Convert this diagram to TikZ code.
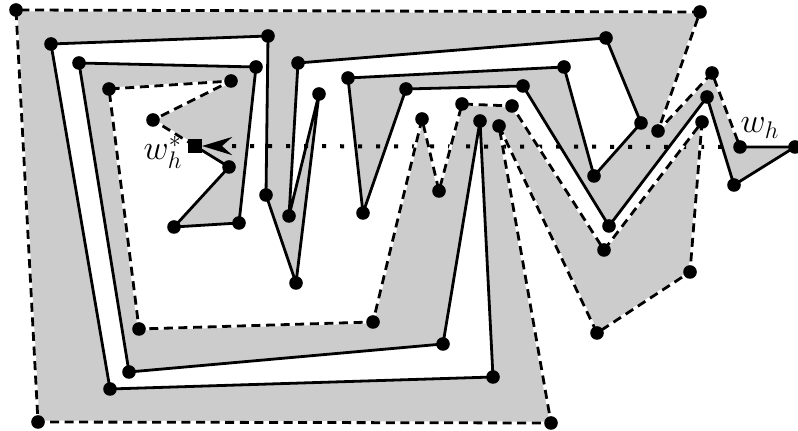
\documentclass[tikz,border=0pt]{standalone}
\usetikzlibrary{arrows.meta}
\begin{document}
\begin{tikzpicture}[x=0.5pt,y=-0.5pt,
  solidedge/.style={line width=1.4pt, line join=round},
  dashunder/.style={white, line width=1.4pt, line join=round},
  dashedge/.style={line width=1.4pt, dash pattern=on 4.5pt off 2.8pt, line join=round},
  dotline/.style={line width=2pt, dash pattern=on 2pt off 7pt},
  vtx/.style={circle, fill=black, inner sep=0pt, minimum size=6.8pt},
  sq/.style={rectangle, fill=black, inner sep=0pt, minimum size=6.8pt},
  lbl/.style={inner sep=0pt, font=\fontsize{18}{21}\selectfont}]
\useasboundingbox (0,0) rectangle (798,431);
% solid chain
\coordinate (s0) at (195,146);
\coordinate (s1) at (229,167);
\coordinate (s2) at (174,227);
\coordinate (s3) at (239,223);
\coordinate (s4) at (256,67);
\coordinate (s5) at (79,63);
\coordinate (s6) at (129,372);
\coordinate (s7) at (443,344);
\coordinate (s8) at (480,121);
\coordinate (s9) at (493,377);
\coordinate (s10) at (110,389);
\coordinate (s11) at (51,44);
\coordinate (s12) at (268,36);
\coordinate (s13) at (266,195);
\coordinate (s14) at (296,283);
\coordinate (s15) at (319,94);
\coordinate (s16) at (289,216);
\coordinate (s17) at (298,63);
\coordinate (s18) at (606,38);
\coordinate (s19) at (641,123);
\coordinate (s20) at (594,176);
\coordinate (s21) at (564,67);
\coordinate (s22) at (348,78);
\coordinate (s23) at (363,213);
\coordinate (s24) at (406,89);
\coordinate (s25) at (523,86);
\coordinate (s26) at (609,226);
\coordinate (s27) at (707,97);
\coordinate (s28) at (734,185);
\coordinate (s29) at (795,147);
\coordinate (s30) at (740,147);
% dashed chain
\coordinate (d1) at (153,120);
\coordinate (d2) at (231,81);
\coordinate (d3) at (109,89);
\coordinate (d4) at (139,329);
\coordinate (d5) at (373,322);
\coordinate (d6) at (422,119);
\coordinate (d7) at (439,191);
\coordinate (d8) at (462,104);
\coordinate (d9) at (512,106);
\coordinate (d10) at (604,250);
\coordinate (d11) at (702,122);
\coordinate (d12) at (690,272);
\coordinate (d13) at (597,333);
\coordinate (d14) at (499,126);
\coordinate (d15) at (551,423);
\coordinate (d16) at (38,422);
\coordinate (d17) at (16,10);
\coordinate (d18) at (700,12);
\coordinate (d19) at (658,131);
\coordinate (d20) at (712,73);
\coordinate (tip) at (202,146);
% gray interior
\fill[black!20] (s0) -- (s1) -- (s2) -- (s3) -- (s4) -- (s5) -- (s6) -- (s7) -- (s8) -- (s9) -- (s10)
  -- (s11) -- (s12) -- (s13) -- (s14) -- (s15) -- (s16) -- (s17) -- (s18) -- (s19) -- (s20)
  -- (s21) -- (s22) -- (s23) -- (s24) -- (s25) -- (s26) -- (s27) -- (s28) -- (s29) -- (s30)
  -- (d20) -- (d19) -- (d18) -- (d17) -- (d16) -- (d15) -- (d14) -- (d13) -- (d12) -- (d11)
  -- (d10) -- (d9) -- (d8) -- (d7) -- (d6) -- (d5) -- (d4) -- (d3) -- (d2) -- (d1) -- cycle;
% dotted ray
\draw[dotline, -{Stealth[length=15pt, width=9pt, inset=5pt]}] (s30) -- (tip);
% dashed chain
\foreach \style in {dashunder, dashedge}{
\draw[\style] (s0) -- (d1) -- (d2) -- (d3) -- (d4) -- (d5) -- (d6) -- (d7) -- (d8) -- (d9) -- (d10)
  -- (d11) -- (d12) -- (d13) -- (d14) -- (d15) -- (d16) -- (d17) -- (d18) -- (d19) -- (d20) -- (s30);
}
% solid chain
\draw[solidedge] (s0) -- (s1) -- (s2) -- (s3) -- (s4) -- (s5) -- (s6) -- (s7) -- (s8) -- (s9) -- (s10)
  -- (s11) -- (s12) -- (s13) -- (s14) -- (s15) -- (s16) -- (s17) -- (s18) -- (s19) -- (s20)
  -- (s21) -- (s22) -- (s23) -- (s24) -- (s25) -- (s26) -- (s27) -- (s28) -- (s29) -- (s30);
% vertices
\foreach \p in {s1,s2,s3,s4,s5,s6,s7,s8,s9,s10,s11,s12,s13,s14,s15,s16,s17,s18,s19,s20,
  s21,s22,s23,s24,s25,s26,s27,s28,s29,s30,d1,d2,d3,d4,d5,d6,d7,d8,d9,d10,d11,d12,d13,d14,
  d15,d16,d17,d18,d19,d20}{
  \node[vtx] (v-\p) at (\p) {};
}
\node[sq] (wstar) at (s0) {};
\node[lbl] (lwstar) at (163,152) {$w_h^*$};
\node[lbl] (lwh) at (760,128) {$w_h$};
\end{tikzpicture}
\end{document}
